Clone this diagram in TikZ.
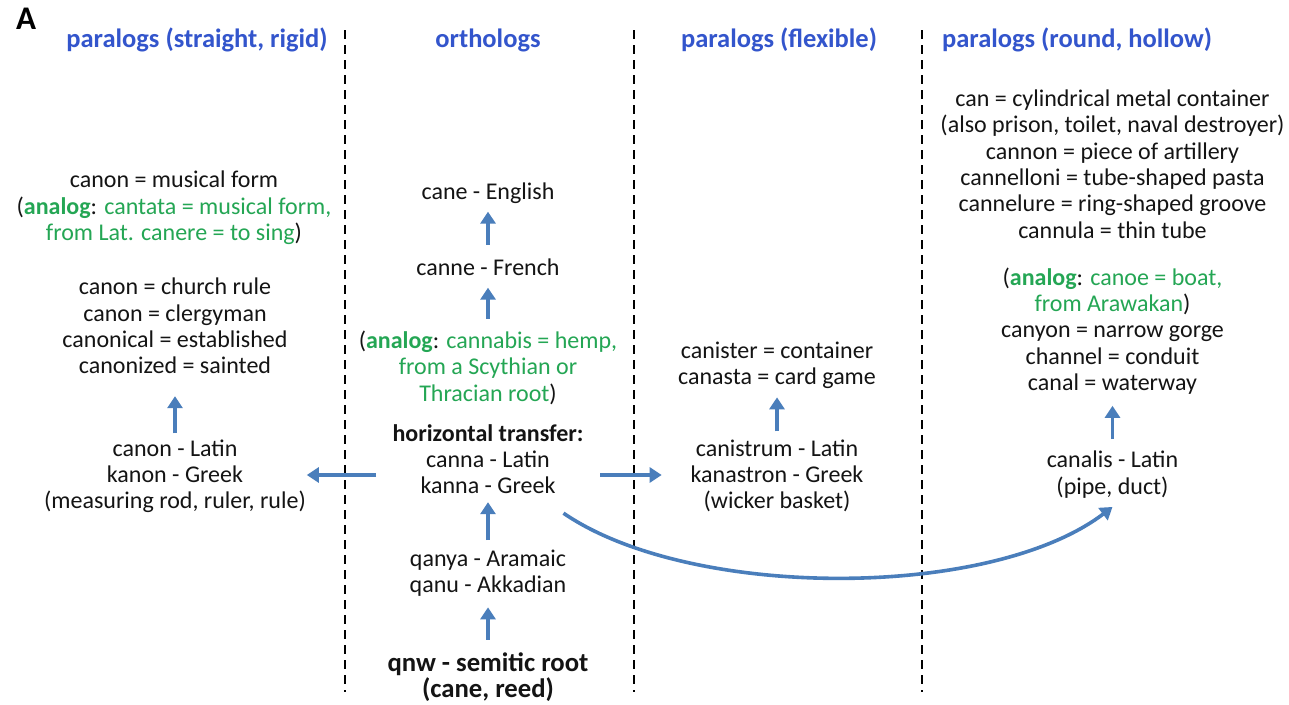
\documentclass[tikz,border=0pt]{standalone}
\usepackage{fontspec}
\setmainfont{Carlito}
\usetikzlibrary{arrows.meta}
\definecolor{hdblue}{RGB}{51,85,204}
\definecolor{gn}{RGB}{36,166,84}
\definecolor{arrblue}{RGB}{74,126,187}
\definecolor{txt}{RGB}{20,20,20}
\newcommand{\grn}[1]{\textcolor{gn}{#1}}
\newcommand{\anlg}{\textcolor{gn}{\bfseries analog}}
\tikzset{
  every node/.style={inner sep=0pt, outer sep=0pt},
  body/.style={align=center, text=txt, font=\fontsize{24}{26.3}\selectfont, yshift=-3pt,
    execute at begin node=\strut, execute at end node=\strut},
  head/.style={text=hdblue, font=\bfseries\fontsize{26.5}{30}\selectfont},
  arr/.style={draw=arrblue, line width=3.6pt, -{Triangle[width=15pt,length=12pt]}},
  divider/.style={draw=black, line width=2.4pt, dash pattern=on 9pt off 6pt},
}
\begin{document}
\begin{tikzpicture}[x=1pt,y=-1pt]
\fill[white] (0,0) rectangle (1289,704);
\useasboundingbox (0,0) rectangle (1289,704);

% dividers
\draw[divider] (345,30) -- (345,692);
\draw[divider] (634,30) -- (634,692);
\draw[divider] (922,30) -- (922,692);

% label and headings
\node[font=\bfseries\fontsize{33}{34}\selectfont, text=black] (lblA) at (26,19) {A};
\node[head] (h1) at (197,40) {paralogs (straight, rigid)};
\node[head] (h2) at (488,40) {orthologs};
\node[head] (h3) at (779,40) {paralogs (flexible)};
\node[head] (h4) at (1077,40) {paralogs (round, hollow)};

% left column
\node[body] (musical) at (174,206.7) {canon = musical form\\(\anlg: \grn{cantata = musical form,}\\\grn{from Lat. canere = to sing})};
\node[body] (church) at (175,327) {canon = church rule\\canon = clergyman\\canonical = established\\canonized = sainted};
\node[body] (latinL) at (175,475) {canon - Latin\\kanon - Greek\\(measuring rod, ruler, rule)};

% middle column
\node[body] (english) at (488,191) {cane - English};
\node[body] (french) at (488,267) {canne - French};
\node[body] (analogM) at (488,367) {(\anlg: \grn{cannabis = hemp,}\\\grn{from a Scythian or}\\\grn{Thracian root})};
\node[body] (hz) at (488,460) {\textbf{horizontal transfer:}\\canna - Latin\\kanna - Greek};
\node[body] (qanya) at (488,572.5) {qanya - Aramaic\\qanu - Akkadian};
\node[body, font=\bfseries\fontsize{26.7}{26}\selectfont] (qnw) at (488,676) {qnw - semitic root\\(cane, reed)};

% flexible column
\node[body] (canister) at (777,364.5) {canister = container\\canasta = card game};
\node[body] (canistrum) at (777,475) {canistrum - Latin\\kanastron - Greek\\(wicker basket)};

% round column
\node[body] (roundA) at (1112.5,165) {can = cylindrical metal container\\(also prison, toilet, naval destroyer)\\cannon = piece of artillery\\cannelloni = tube-shaped pasta\\cannelure = ring-shaped groove\\cannula = thin tube};
\node[body] (roundB) at (1112.5,330) {(\anlg: \grn{canoe = boat,}\\\grn{from Arawakan})\\canyon = narrow gorge\\channel = conduit\\canal = waterway};
\node[body] (canalis) at (1112.5,473.5) {canalis - Latin\\(pipe, duct)};

% vertical arrows
\draw[arr, shorten <=12pt, shorten >=4.5pt] (french) -- (english);
\draw[arr, shorten <=12pt, shorten >=4.5pt] (analogM) -- (french);
\draw[arr, shorten <=10pt, shorten >=0.5pt] (qanya) -- (hz);
\draw[arr, shorten <=13pt, shorten >=6.5pt] (qnw) -- (qanya);
\draw[arr, shorten <=6pt, shorten >=14.5pt] (latinL) -- (church);
\draw[arr, shorten <=8pt, shorten >=4.5pt] (canistrum) -- (canister);
\draw[arr, shorten <=12pt, shorten >=7.5pt] (canalis) -- (roundB);

% horizontal transfer arrows
\draw[arr, shorten <=16.5pt, shorten >=1pt] ([yshift=-12pt]hz.west) -- ([yshift=3pt]latinL.east);
\draw[arr, shorten <=17pt, shorten >=29pt] ([yshift=-12pt]hz.east) -- ([yshift=3pt]canistrum.west);
\draw[arr] ([xshift=-20pt,yshift=-11.5pt]hz.south east) .. controls (690,600) and (990,600) .. ([yshift=-5pt]canalis.south);
\end{tikzpicture}
\end{document}
